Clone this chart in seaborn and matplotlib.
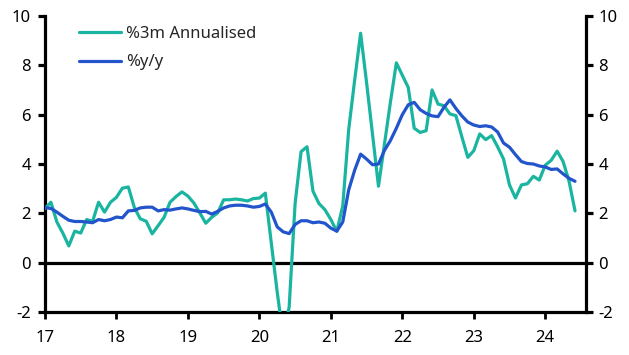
import matplotlib
matplotlib.use("Agg")
import matplotlib.pyplot as plt
import numpy as np
import pandas as pd
import seaborn as sns

# ---- data (monthly, Jan 2017 .. Jun 2024) ----
start_year = 17
n_months = 90
ann3m = [2.2, 2.45, 1.65, 1.2, 0.68, 1.28, 1.2, 1.75, 1.68, 2.45, 2.05, 2.45,
         2.65, 3.02, 3.07, 2.24, 1.78, 1.68, 1.17, 1.5, 1.84, 2.45, 2.68, 2.87,
         2.7, 2.42, 2.02, 1.6, 1.84, 2.02, 2.55, 2.55, 2.58, 2.55, 2.5, 2.6,
         2.62, 2.82, 0.8, -1.2, -3.0, -1.8, 2.4, 4.5, 4.7, 2.9, 2.4, 2.15,
         1.75, 1.27, 2.3, 5.4, 7.4, 9.3, 7.3, 5.2, 3.1, 4.8, 6.5, 8.1,
         7.6, 7.1, 5.45, 5.28, 5.35, 7.0, 6.43, 6.36, 6.03, 5.96, 5.1, 4.27,
         4.54, 5.22, 4.99, 5.15, 4.7, 4.2, 3.15, 2.62, 3.15, 3.2, 3.5, 3.35,
         3.95, 4.15, 4.52, 4.1, 3.3, 2.1]
yoy = [2.23, 2.2, 2.05, 1.88, 1.72, 1.67, 1.67, 1.65, 1.62, 1.75, 1.7, 1.75,
       1.85, 1.82, 2.1, 2.12, 2.22, 2.25, 2.25, 2.1, 2.15, 2.13, 2.18, 2.22,
       2.18, 2.12, 2.07, 2.08, 1.97, 2.08, 2.22, 2.3, 2.33, 2.33, 2.3, 2.25,
       2.28, 2.38, 2.05, 1.45, 1.25, 1.18, 1.55, 1.7, 1.7, 1.62, 1.65, 1.6,
       1.4, 1.28, 1.65, 2.95, 3.75, 4.4, 4.2, 3.97, 4.0, 4.55, 4.95, 5.45,
       6.0, 6.4, 6.5, 6.2, 6.05, 5.95, 5.92, 6.3, 6.6, 6.25, 5.95, 5.7,
       5.58, 5.52, 5.55, 5.5, 5.3, 4.85, 4.68, 4.38, 4.1, 4.02, 4.0, 3.92,
       3.88, 3.78, 3.8, 3.6, 3.42, 3.3]
series_names = ["%3m Annualised", "%y/y"]
series_colors = ["#1ab5a1", "#2254cc"]
xtick_values = [17, 18, 19, 20, 21, 22, 23, 24]
xtick_labels = ["17", "18", "19", "20", "21", "22", "23", "24"]
ytick_values = [-2, 0, 2, 4, 6, 8, 10]

# ---- build table ----
xs = [start_year + m / 12 for m in range(n_months)]
df = pd.DataFrame({
    "x": xs + xs,
    "value": ann3m + yoy,
    "series": [series_names[0]] * n_months + [series_names[1]] * n_months,
})

sns.set_theme(style="white")
plt.rcParams["font.family"] = ["Noto Sans", "DejaVu Sans"]
plt.rcParams["axes.unicode_minus"] = False

fig = plt.figure(figsize=(6.29, 3.55), dpi=100)
ax = fig.add_axes([0.0715, 0.121, 0.8601, 0.834])

sns.lineplot(data=df, x="x", y="value", hue="series", hue_order=series_names,
             palette=dict(zip(series_names, series_colors)), linewidth=2.3,
             ax=ax, zorder=3)

ax.axhline(0, color="black", lw=2.3, zorder=2)
ax.set_xlim(17, 24.57)
ax.set_ylim(-2, 10)
ax.set_xticks(xtick_values)
ax.set_xticklabels(xtick_labels)
ax.set_yticks(ytick_values)
ax.set_xlabel("")
ax.set_ylabel("")

for side in ["left", "right", "bottom"]:
    ax.spines[side].set_color("black")
    ax.spines[side].set_linewidth(2.3)
ax.spines["top"].set_visible(False)
ax.spines["right"].set_visible(False)

ax.tick_params(axis="y", left=True, direction="out", length=5, width=2.3,
               labelsize=12, colors="black", pad=5)
ax.tick_params(axis="x", bottom=True, direction="out", length=5, width=2.0,
               labelsize=12, colors="black", pad=8)

ax2 = ax.twinx()
ax2.set_ylim(-2, 10)
ax2.set_yticks(ytick_values)
ax2.grid(False)
for side in ["left", "top", "bottom"]:
    ax2.spines[side].set_visible(False)
ax2.spines["right"].set_color("black")
ax2.spines["right"].set_linewidth(2.3)
ax2.tick_params(axis="y", right=True, direction="out", length=5, width=2.3,
                labelsize=12, colors="black", pad=4)

leg = ax.legend(loc="upper left", bbox_to_anchor=(0.045, 1.0), frameon=False,
                fontsize=12, handlelength=2.5, handletextpad=0.3,
                labelspacing=0.75, borderaxespad=0.2)
for line in leg.get_lines():
    line.set_linewidth(2.3)

fig.savefig("out.png", dpi=100)
